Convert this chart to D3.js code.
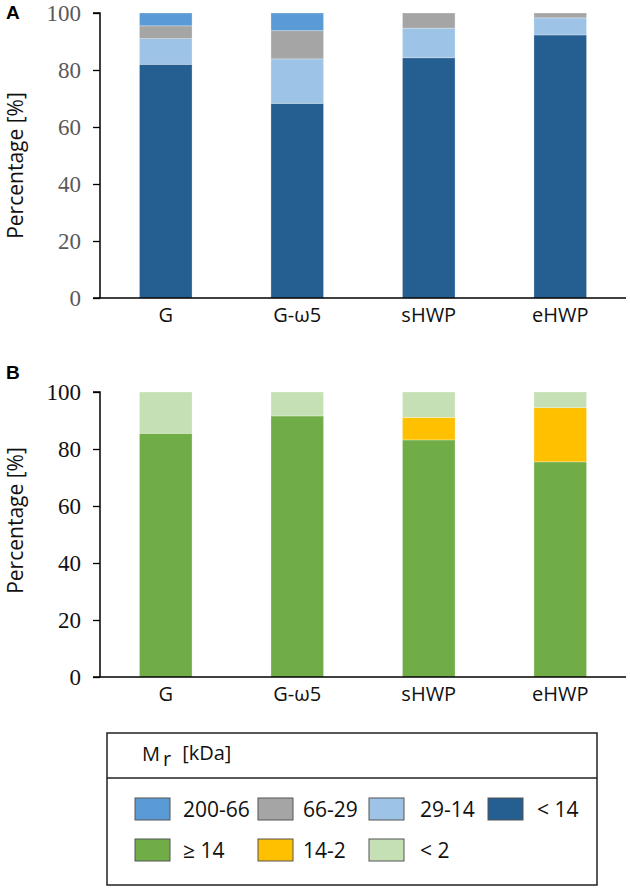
<!DOCTYPE html>
<html><head><meta charset="utf-8">
<script src="https://cdn.jsdelivr.net/npm/d3@7"></script>
<style>body{margin:0;background:#fff;} svg{display:block;}</style>
</head><body>
<svg id="c" width="630" height="891"></svg>
<script>
const categories = ["G", "G-ω5", "sHWP", "eHWP"];
const yTicks = [0, 20, 40, 60, 80, 100];

// Panel A: molecular weight fractions (kDa)
const seriesA = ["< 14", "29-14", "66-29", "200-66"];
const lt14   = [82.0, 68.3, 84.3, 92.3];
const f29_14 = [9.0, 15.6, 10.4, 6.0];
const f66_29 = [4.5, 9.9, 5.3, 1.7];
const f200_66= [4.5, 6.2, 0.0, 0.0];

// Panel B
const seriesB = ["≥ 14", "14-2", "< 2"];
const ge14  = [85.5, 91.6, 83.2, 75.5];
const f14_2 = [0.0, 0.0, 7.9, 19.0];
const lt2   = [14.5, 8.4, 8.9, 5.5];

const colors = {
  "200-66": "#5B9BD5", "66-29": "#A5A5A5", "29-14": "#9DC3E6", "< 14": "#255E91",
  "≥ 14": "#70AD47", "14-2": "#FFC000", "< 2": "#C5E0B4"
};
const legendRow1 = ["200-66", "66-29", "29-14", "< 14"];
const legendRow2 = ["≥ 14", "14-2", "< 2"];

const svg = d3.select("#c");
const SANS = "'Open Sans', sans-serif";
const SERIF = "'Liberation Serif', serif";

function panel(letter, top, bottom, keys, valueArrays, tickColor, titleShift) {
  const x = d3.scaleBand().domain(categories).range([100, 626]).paddingInner(0.6).paddingOuter(0.3);
  const y = d3.scaleLinear().domain([0, 100]).range([bottom, top]);
  const rows = categories.map((c, i) => {
    const o = {cat: c};
    keys.forEach((k, j) => o[k] = valueArrays[j][i]);
    return o;
  });
  const stack = d3.stack().keys(keys)(rows);
  const g = svg.append("g");
  g.selectAll("g.s").data(stack).join("g").attr("fill", d => colors[d.key])
    .selectAll("rect").data(d => d.filter(s => s[1] - s[0] > 0)).join("rect")
    .attr("x", d => x(d.data.cat)).attr("width", x.bandwidth())
    .attr("y", d => y(d[1])).attr("height", d => Math.max(0, y(d[0]) - y(d[1])))
    .attr("stroke", "#fff").attr("stroke-opacity", 0.35).attr("stroke-width", 0.8);

  // y axis
  const ya = g.append("g").attr("transform", "translate(100,0)")
    .call(d3.axisLeft(y).tickValues(yTicks).tickSize(7).tickPadding(12));
  ya.select(".domain").attr("stroke", "#000").attr("stroke-width", 1.5).attr("d", `M-7,${top}H0V${bottom}`);
  ya.selectAll(".tick line").attr("stroke", "#000").attr("stroke-width", 1.3);
  ya.selectAll(".tick text").attr("font-family", SERIF).attr("font-size", 23).attr("fill", tickColor);

  // x axis
  const xa = g.append("g").attr("transform", `translate(0,${bottom})`)
    .call(d3.axisBottom(x).tickSize(0).tickPadding(10));
  xa.select(".domain").attr("stroke", "#000").attr("stroke-width", 1.5).attr("d", "M93,0H626");
  xa.selectAll(".tick text").attr("font-family", SANS).attr("font-size", 20).attr("fill", "#111");

  g.append("text").attr("transform", `translate(23,${(top + bottom) / 2 + titleShift}) rotate(-90)`)
    .attr("text-anchor", "middle").attr("font-family", SANS).attr("font-size", 21).attr("fill", "#111")
    .text("Percentage [%]");
  g.append("text").attr("x", 6).attr("y", top - (letter === "A" ? -6 : 13))
    .attr("font-family", "'Liberation Sans', Arial, sans-serif").attr("font-weight", "bold")
    .attr("font-size", 19).attr("fill", "#000").text(letter);
}

panel("A", 13, 298, seriesA, [lt14, f29_14, f66_29, f200_66], "#595959", 10);
panel("B", 392, 677, seriesB, [ge14, f14_2, lt2], "#111", -14);

// Legend
const lg = svg.append("g");
lg.append("rect").attr("x", 107).attr("y", 733).attr("width", 490).attr("height", 152)
  .attr("fill", "none").attr("stroke", "#222").attr("stroke-width", 1.5);
lg.append("line").attr("x1", 107).attr("x2", 597).attr("y1", 778).attr("y2", 778)
  .attr("stroke", "#222").attr("stroke-width", 1.5);
const title = lg.append("text").attr("x", 142).attr("y", 761).attr("font-family", SANS)
  .attr("font-size", 20).attr("fill", "#111");
title.append("tspan").text("M");
title.append("tspan").attr("dy", 5).attr("dx", 3).text("r");
title.append("tspan").attr("dy", -6).attr("dx", 11).text("[kDa]");

const swX = [135, 258, 369, 488];
const txX = [183, 303, 420, 537];
function legendRow(items, cy) {
  items.forEach((k, i) => {
    lg.append("rect").attr("x", swX[i]).attr("y", cy - 11).attr("width", 35).attr("height", 22)
      .attr("fill", colors[k]).attr("stroke", "#555").attr("stroke-width", 1);
    lg.append("text").attr("x", txX[i]).attr("y", cy + 8)
      .attr("font-family", SANS).attr("font-size", 21).attr("fill", "#111").text(k);
  });
}
legendRow(legendRow1, 809);
legendRow(legendRow2, 850);
</script>
</body></html>
